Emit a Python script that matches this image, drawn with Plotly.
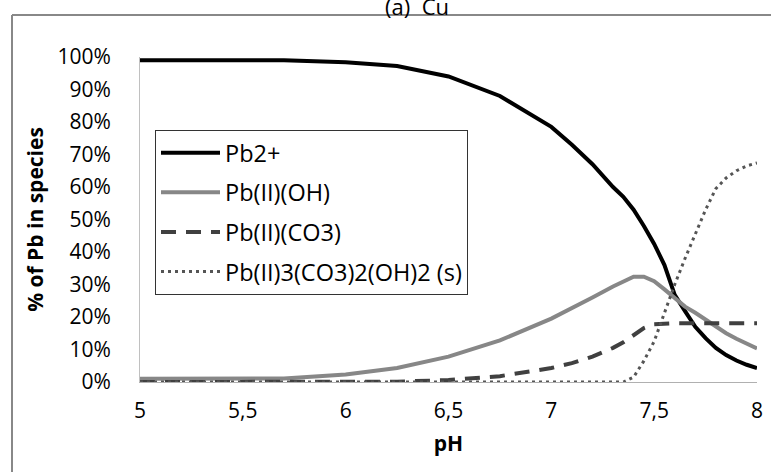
import plotly.graph_objects as go

ph = [5.0, 5.25, 5.5, 5.7, 6.0, 6.25, 6.5, 6.75, 7.0, 7.1, 7.2, 7.3, 7.35, 7.4, 7.45,
      7.5, 7.55, 7.6, 7.65, 7.7, 7.75, 7.8, 7.85, 7.9, 7.95, 8.0]

pb2 = [99, 99, 99, 99, 98.4, 97.2, 94, 88, 78.5, 73, 67, 60, 57, 53, 48,
       42.5, 36, 26.8, 21.8, 17, 13.5, 10.5, 8.3, 6.6, 5.3, 4.3]
pb_oh = [1.0, 1.0, 1.0, 1.1, 2.3, 4.3, 7.8, 12.8, 19.5, 22.6, 26, 29.4, 31, 32.4, 32.4,
         31, 28.5, 25.8, 23.2, 21.3, 19.2, 16.8, 15, 13.3, 11.7, 10.3]
pb_co3 = [0, 0, 0, 0, 0, 0.1, 0.6, 1.8, 4.3, 5.8, 7.8, 10.5, 12.2, 14.5, 16.6,
          17.8, 18.1, 18.1, 18.1, 18.1, 18.1, 18.1, 18.1, 18.1, 18.1, 18.1]
pb_solid = [0, 0, 0, 0, 0, 0, 0, 0, 0, 0, 0, 0, 0, 1.5, 6.5,
            12.5, 21.5, 30, 38, 45.5, 53, 59.5, 62.8, 65, 66.5, 67.4]

names = ["Pb2+", "Pb(II)(OH)", "Pb(II)(CO3)", "Pb(II)3(CO3)2(OH)2 (s)"]
x_tickvals = [5, 5.5, 6, 6.5, 7, 7.5, 8]
x_ticktext = ["5", "5,5", "6", "6,5", "7", "7,5", "8"]
y_tickvals = [0, 10, 20, 30, 40, 50, 60, 70, 80, 90, 100]
y_ticktext = [f"{v}%" for v in y_tickvals]

FONT = "Open Sans"

series = [pb2, pb_oh, pb_co3, pb_solid]
styles = [
    dict(color="#000000", width=4, dash="solid"),
    dict(color="#878787", width=4, dash="solid"),
    dict(color="#404040", width=4, dash="15px,10px"),
    dict(color="#555555", width=3, dash="3px,4px"),
]

fig = go.Figure()
for i, (nm, ys, st) in enumerate(zip(names, series, styles)):
    fig.add_trace(go.Scatter(x=ph, y=ys, mode="lines", name=nm, line=st,
                             legendgroup=f"g{i}"))

L, R, T, B = 140, 14, 57, 90
W, H = 771, 472
pw, ph_ = W - L - R, H - T - B

def px_x(p):
    return (p - L) / pw

def px_y(p):
    return (H - B - p) / ph_

fig.update_layout(
    width=W, height=H,
    margin=dict(l=L, r=R, t=T, b=B, autoexpand=False),
    paper_bgcolor="white", plot_bgcolor="white",
    font=dict(family=FONT, color="#000000", size=21),
    showlegend=True,
    legend=dict(x=px_x(155), y=px_y(130), xanchor="left", yanchor="top",
                bordercolor="#333333", borderwidth=1, bgcolor="white",
                font=dict(family=FONT, size=23.5), tracegroupgap=6,
                itemwidth=59, traceorder="grouped"),
    xaxis=dict(range=[5, 8], tickvals=x_tickvals, ticktext=x_ticktext,
               showgrid=False, zeroline=False, showline=True, linecolor="#b0b0b0",
               linewidth=1, ticks="", ticklabelstandoff=10, automargin=False,
               tickfont=dict(size=21),
               title=dict(text="<b>pH</b>", font=dict(size=21), standoff=13)),
    yaxis=dict(range=[0, 100], tickvals=y_tickvals, ticktext=y_ticktext,
               showgrid=False, zeroline=False, showline=True, linecolor="#c0c0c0",
               linewidth=1, ticks="", ticklabelstandoff=24, automargin=False,
               tickfont=dict(size=21),
               title=dict(text="<b>% of Pb in species</b>", font=dict(size=21), standoff=8)),
    annotations=[dict(text="(a)  Cu", xref="paper", yref="paper",
                      x=px_x(417), y=px_y(23), xanchor="center", yanchor="bottom",
                      showarrow=False, font=dict(size=22))],
    shapes=[
        dict(type="line", xref="paper", yref="paper", x0=px_x(12), x1=px_x(W + 5),
             y0=px_y(15), y1=px_y(15), line=dict(color="#888888", width=2)),
        dict(type="line", xref="paper", yref="paper", x0=px_x(12), x1=px_x(12),
             y0=px_y(15), y1=px_y(H + 5), line=dict(color="#888888", width=2)),
    ],
)

fig.write_html("out.html", config={"displayModeBar": False},
               post_script="document.body.style.margin='0';document.body.style.overflow='hidden';")
